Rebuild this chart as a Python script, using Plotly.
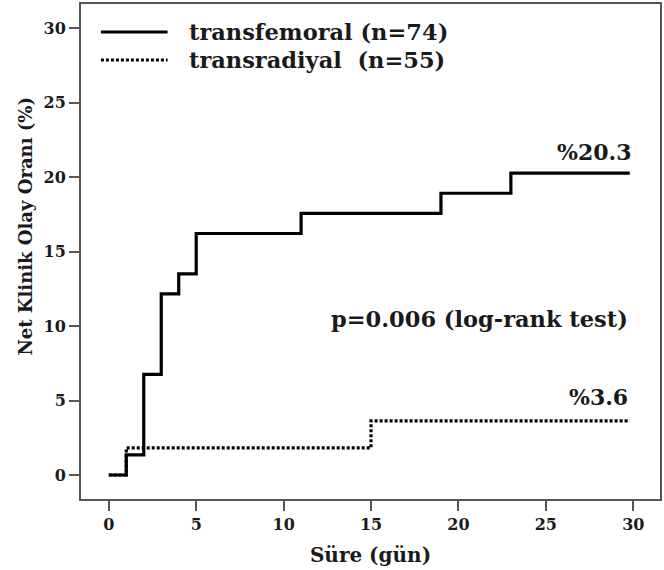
import plotly.graph_objects as go

# Kaplan-Meier cumulative event rates (%)
femoral_days = [0, 1, 2, 3, 4, 5, 11, 19, 23, 29.8]
femoral_rate = [0, 1.35, 6.76, 12.16, 13.51, 16.22, 17.57, 18.92, 20.27, 20.27]
radial_days = [0, 1, 15, 29.8]
radial_rate = [0, 1.82, 3.64, 3.64]

x_ticks = [0, 5, 10, 15, 20, 25, 30]
y_ticks = [0, 5, 10, 15, 20, 25, 30]

legend_labels = ["transfemoral (n=74)", "transradiyal  (n=55)"]
final_labels = ["%20.3", "%3.6"]
p_text = "p=0.006 (log-rank test)"

FONT = "DejaVu Serif"
TXT = "#1a1a1a"
AX = "#555555"

fig = go.Figure()
fig.add_trace(go.Scatter(x=femoral_days, y=femoral_rate, mode="lines",
                         line=dict(shape="hv", color="black", width=3.2),
                         name=legend_labels[0], showlegend=False))
fig.add_trace(go.Scatter(x=radial_days, y=radial_rate, mode="lines",
                         line=dict(shape="hv", color="black", width=3.2, dash="3px,2px"),
                         name=legend_labels[1], showlegend=False))

# custom legend
leg_y = [0.9434, 0.8869]
dashes = ["solid", "3px,2px"]
for i in range(2):
    fig.add_shape(type="line", xref="paper", yref="paper",
                  x0=0.0344, x1=0.1495, y0=leg_y[i], y1=leg_y[i],
                  line=dict(color="black", width=3.2, dash=dashes[i]))
    fig.add_annotation(xref="paper", yref="paper", x=0.1838, y=leg_y[i],
                       xanchor="left", yanchor="middle", showarrow=False,
                       text=legend_labels[i],
                       font=dict(family=FONT, size=22.5, color=TXT, weight="bold"))

fig.add_annotation(x=30.05, y=21.7, xanchor="right", yanchor="middle", showarrow=False,
                   text=final_labels[0], font=dict(family=FONT, size=22, color=TXT, weight="bold"))
fig.add_annotation(x=29.8, y=10.48, xanchor="right", yanchor="middle", showarrow=False,
                   text=p_text, font=dict(family=FONT, size=22.5, color=TXT, weight="bold"))
fig.add_annotation(x=29.8, y=5.24, xanchor="right", yanchor="middle", showarrow=False,
                   text=final_labels[1], font=dict(family=FONT, size=22, color=TXT, weight="bold"))

# y axis title as annotation (positioned like reference)
fig.add_annotation(xref="paper", yref="paper", x=-0.0974, y=0.5515,
                   xanchor="center", yanchor="middle", showarrow=False, textangle=-90,
                   text="Net Klinik Olay Oranı (%)",
                   font=dict(family=FONT, size=18, color=TXT, weight="bold"))

fig.update_xaxes(range=[-1.59, 31.53], tickvals=x_ticks, ticks="outside", ticklen=10,
                 tickwidth=2, tickcolor=AX, showline=True, linecolor=AX, linewidth=2,
                 mirror=True, showgrid=False, zeroline=False,
                 tickfont=dict(family=FONT, size=16, color=TXT, weight="bold"),
                 title=dict(text="Süre (gün)", standoff=15,
                            font=dict(family=FONT, size=20, color=TXT, weight="bold")))
fig.update_yaxes(range=[-1.61, 31.63], tickvals=y_ticks, ticks="outside", ticklen=10,
                 tickwidth=2, tickcolor=AX, showline=True, linecolor=AX, linewidth=2,
                 mirror=True, showgrid=False, zeroline=False,
                 tickfont=dict(family=FONT, size=16, color=TXT, weight="bold"))

fig.update_layout(width=664, height=570, margin=dict(l=81, r=2, t=4, b=71),
                  plot_bgcolor="white", paper_bgcolor="white", showlegend=False)

fig.write_html("out.html")
